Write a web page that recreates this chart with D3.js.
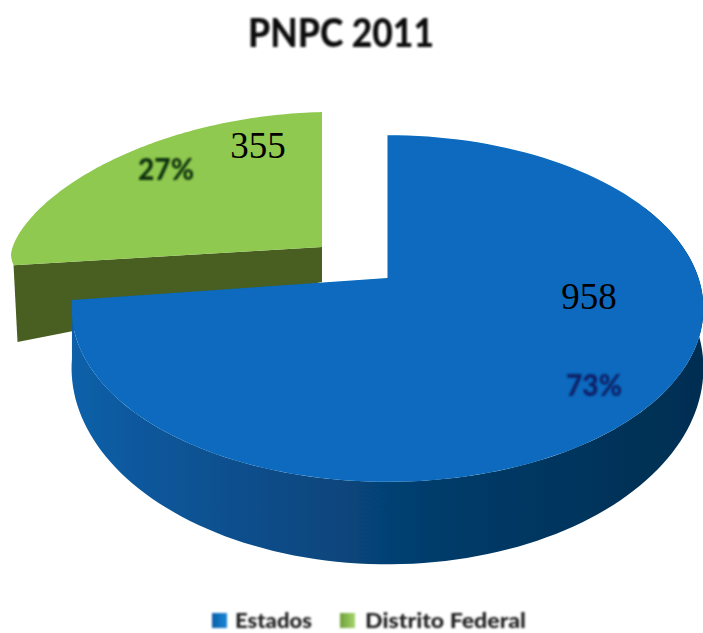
<!DOCTYPE html>
<html><head><meta charset="utf-8">
<script src="https://cdn.jsdelivr.net/npm/d3@7"></script>
<style>html,body{margin:0;background:#fff}svg{display:block}</style></head>
<body><div id="c"></div>
<script>
const title = "PNPC 2011";
const categories = ["Estados", "Distrito Federal"];
const values = [958, 355];
const percents = ["73%", "27%"];

const W = 703, H = 633;
const svg = d3.select("#c").append("svg").attr("width", W).attr("height", H);
const defs = svg.append("defs");
const blur = (id, s) => defs.append("filter").attr("id", id).attr("x", "-10%").attr("y", "-10%").attr("width", "120%").attr("height", "120%")
  .append("feGaussianBlur").attr("stdDeviation", s);
blur("soft", 0.7); blur("softT", 0.8);

const grad = (id, stops, x1 = 0, x2 = 1) => {
  const g = defs.append("linearGradient").attr("id", id).attr("x1", x1).attr("x2", x2).attr("y1", 0).attr("y2", 0);
  stops.forEach(([o, c]) => g.append("stop").attr("offset", o).attr("stop-color", c));
};
grad("blueWall", [[0, "#0c60a9"], [0.12, "#0c579b"], [0.35, "#094a84"], [0.6, "#043b69"], [1, "#022e52"]]);
grad("sqB", [[0, "#0a5ea8"], [1, "#1b86d8"]]);
grad("sqG", [[0, "#6f9f3a"], [1, "#a6d56a"]]);

const colors = d3.scaleOrdinal().domain(categories).range(["#076abe", "#8fc950"]);
const sideColors = d3.scaleOrdinal().domain(categories).range(["url(#blueWall)", "#4a5f21"]);
const pctColors = d3.scaleOrdinal().domain(categories).range(["#0a2068", "#0e300b"]);

const pie = d3.pie().sort(null).value(d => d.v);
const arcs = pie(categories.map((c, i) => ({ c, v: values[i] })));

// unit-disc to screen projections (perspective for the main body, flattened for the pulled-out slice)
const persp = -0.176;
const projBlue = (x, y, d = 0) => {
  const w = 1 + persp * y;
  return [387.5 + 311 * x / w, (119 * y + 278) / w + d * 56 / (w * w)];
};
const projGreen = (x, y, d = 0) => {
  const f = Math.sign(y) * Math.pow(Math.abs(y), 1.25);
  return [322 + 311 * x + d * Math.abs(x) * 4, 247 + 135 * f - 8 * x + d * (35 + 42 * Math.abs(x))];
};
const unit = a => [Math.sin(a), -Math.cos(a)];
const line = d3.line();
const samples = (a0, a1) => d3.range(0, 121).map(i => a0 + (a1 - a0) * i / 120);

const rimPts = (p, a0, a1, d = 0) => samples(a0, a1).map(a => { const [x, y] = unit(a); return p(x, y, d); });

const g = svg.append("g").attr("filter", "url(#soft)");

// pulled-out slice
const gr = arcs[1];
g.append("path").attr("fill", sideColors(categories[1]))
  .attr("d", line([projGreen(0, 0), projGreen(...unit(gr.startAngle)), projGreen(...unit(gr.startAngle), 1), projGreen(0, 0, 1)]) + "Z");
g.append("path").attr("fill", colors(categories[1]))
  .attr("d", line([projGreen(0, 0), ...rimPts(projGreen, gr.startAngle, gr.endAngle)]) + "Z");

// main body
const bl = arcs[0];
const wallTop = rimPts(projBlue, Math.PI * 0.35, bl.endAngle);
const wallBot = rimPts(projBlue, Math.PI * 0.35, bl.endAngle, 1).reverse();
g.append("path").attr("fill", sideColors(categories[0]))
  .attr("d", line([...wallTop, ...wallBot]) + "Z");
g.append("path").attr("fill", colors(categories[0]))
  .attr("d", line([projBlue(0, 0), ...rimPts(projBlue, bl.startAngle, bl.endAngle)]) + "Z");

// title
svg.append("text").text(title).attr("x", 341).attr("y", 47).attr("text-anchor", "middle")
  .attr("font-family", "Lato").attr("font-weight", 900).attr("font-size", 40).attr("fill", "#111")
  .attr("textLength", 186).attr("lengthAdjust", "spacingAndGlyphs").attr("filter", "url(#softT)");

// value labels
const valuePos = [[589, 309], [258, 158]];
svg.selectAll("text.val").data(values).join("text").attr("class", "val")
  .text(d => d).attr("x", (d, i) => valuePos[i][0]).attr("y", (d, i) => valuePos[i][1])
  .attr("text-anchor", "middle").attr("font-family", "Liberation Serif").attr("font-size", 37).attr("fill", "#000");

// percent labels
const pctPos = [[594, 396], [166, 180]];
svg.selectAll("text.pct").data(percents).join("text").attr("class", "pct")
  .text(d => d).attr("x", (d, i) => pctPos[i][0]).attr("y", (d, i) => pctPos[i][1])
  .attr("text-anchor", "middle").attr("font-family", "Lato").attr("font-weight", 900).attr("font-size", 30)
  .attr("textLength", 56).attr("lengthAdjust", "spacingAndGlyphs")
  .attr("fill", (d, i) => pctColors(categories[i])).attr("filter", "url(#softT)");

// legend
const legSq = [[212, "url(#sqB)"], [340, "url(#sqG)"]];
const legText = [[235, 77], [365, 161]];
const leg = svg.append("g").attr("filter", "url(#softT)");
categories.forEach((c, i) => {
  leg.append("rect").attr("x", legSq[i][0]).attr("y", 613).attr("width", 15).attr("height", 15).attr("fill", legSq[i][1]);
  leg.append("text").text(c).attr("x", legText[i][0]).attr("y", 628)
    .attr("font-family", "Lato").attr("font-weight", 900).attr("font-size", 21).attr("fill", "#222")
    .attr("textLength", legText[i][1]).attr("lengthAdjust", "spacingAndGlyphs");
});
</script></body></html>
